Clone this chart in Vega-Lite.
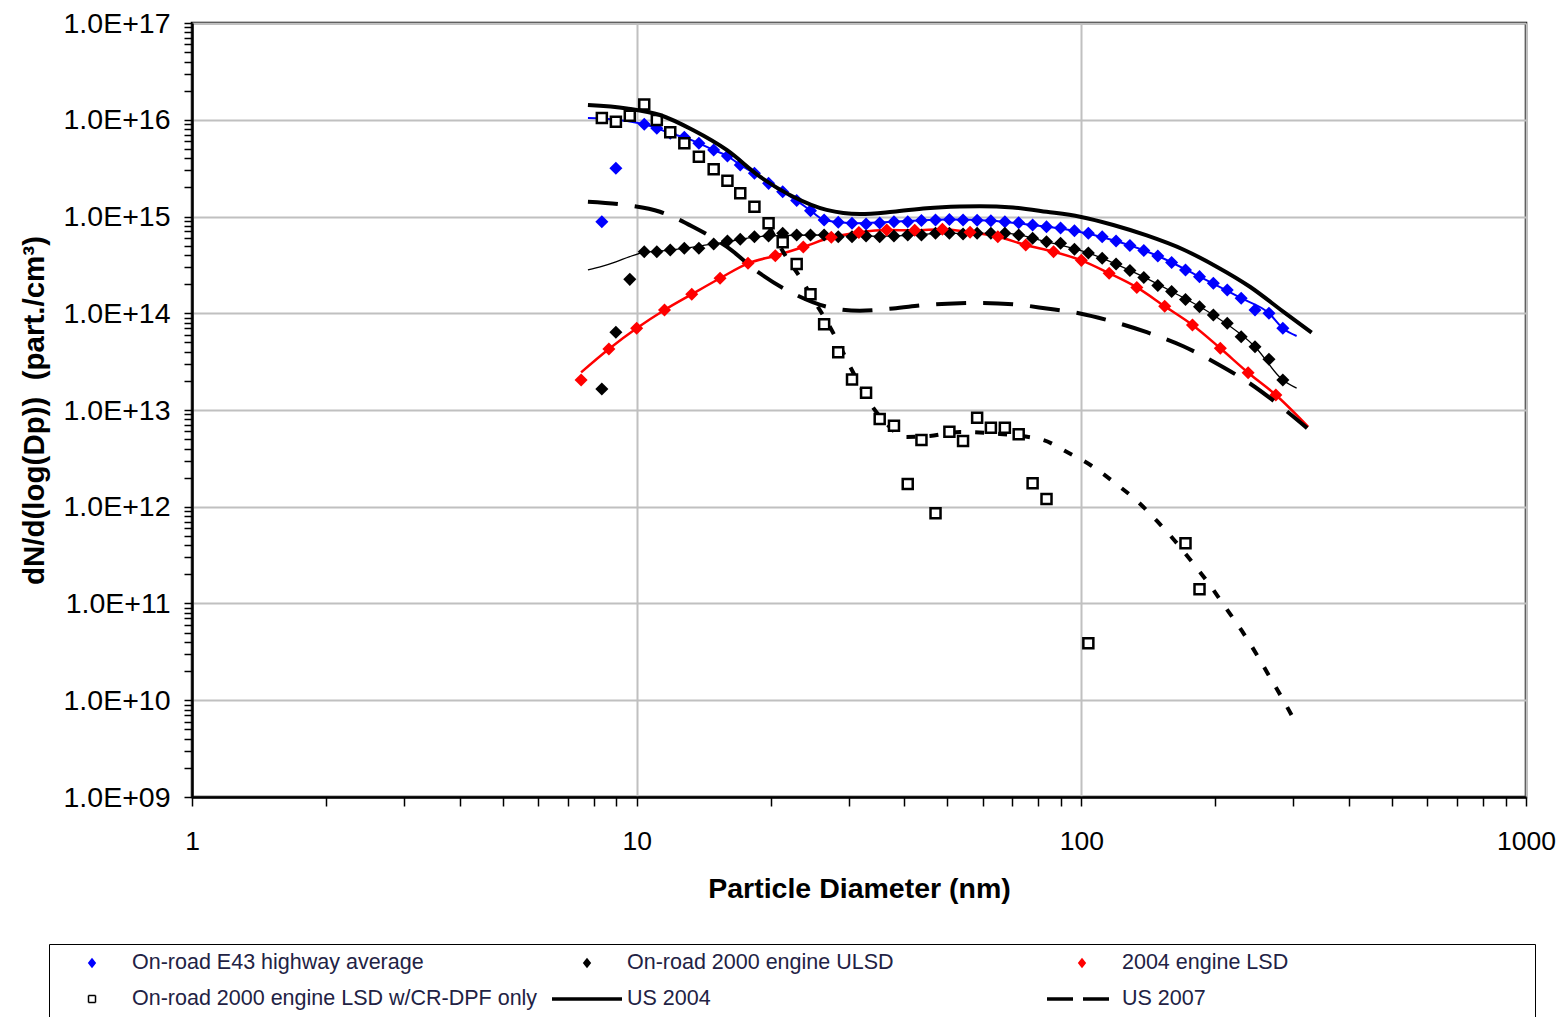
{
  "$schema": "https://vega.github.io/schema/vega-lite/v6.json",
  "width": 1334,
  "height": 774,
  "autosize": {"type": "none"},
  "padding": {"left": 192, "top": 23, "right": 40, "bottom": 220},
  "background": "#ffffff",
  "config": {
    "view": {"stroke": "#000000", "strokeWidth": 2.5},
    "font": "Liberation Sans",
    "legend": {
      "orient": "none", "legendX": -143, "legendY": 921, "direction": "horizontal",
      "columns": 3, "gridAlign": "all", "columnPadding": 11, "rowPadding": 10,
      "padding": 6, "symbolSize": 4900, "clipHeight": 26, "labelOffset": 3, "symbolOffset": 0,
      "labelFont": "Liberation Sans", "labelFontSize": 21.5, "labelColor": "#222244", "labelLimit": 0,
      "strokeColor": "#000000", "fillColor": "#ffffff", "symbolOpacity": 1
    }
  },
  "datasets": {
    "m": [
      {"s":"E43","d":8.35,"n":8.84e14},{"s":"E43","d":8.98,"n":3.15e15},{"s":"E43","d":10.4,"n":8.98e15},{"s":"E43","d":11.1,"n":8.17e15},{"s":"E43","d":11.9,"n":7.24e15},{"s":"E43","d":12.8,"n":6.59e15},{"s":"E43","d":13.8,"n":5.71e15},{"s":"E43","d":14.9,"n":4.87e15},{"s":"E43","d":16.0,"n":4.22e15},{"s":"E43","d":17.1,"n":3.41e15},{"s":"E43","d":18.4,"n":2.80e15},{"s":"E43","d":19.8,"n":2.20e15},{"s":"E43","d":21.3,"n":1.80e15},{"s":"E43","d":22.9,"n":1.46e15},{"s":"E43","d":24.6,"n":1.15e15},{"s":"E43","d":26.4,"n":9.2e14},{"s":"E43","d":28.4,"n":8.71e14},{"s":"E43","d":30.5,"n":8.51e14},{"s":"E43","d":32.8,"n":8.36e14},{"s":"E43","d":35.2,"n":8.57e14},{"s":"E43","d":37.9,"n":8.84e14},{"s":"E43","d":40.7,"n":8.84e14},{"s":"E43","d":43.7,"n":9.10e14},{"s":"E43","d":47.0,"n":9.2e14},{"s":"E43","d":50.5,"n":9.31e14},{"s":"E43","d":54.2,"n":9.2e14},{"s":"E43","d":58.3,"n":9.14e14},{"s":"E43","d":62.6,"n":9.06e14},{"s":"E43","d":67.3,"n":8.84e14},{"s":"E43","d":72.3,"n":8.63e14},{"s":"E43","d":77.7,"n":8.17e14},{"s":"E43","d":83.5,"n":7.85e14},{"s":"E43","d":89.8,"n":7.6e14},{"s":"E43","d":96.5,"n":7.13e14},{"s":"E43","d":103.7,"n":6.70e14},{"s":"E43","d":111.4,"n":6.18e14},{"s":"E43","d":119.7,"n":5.58e14},{"s":"E43","d":128.6,"n":5.01e14},{"s":"E43","d":138.2,"n":4.45e14},{"s":"E43","d":148.6,"n":3.91e14},{"s":"E43","d":159.6,"n":3.35e14},{"s":"E43","d":171.5,"n":2.80e14},{"s":"E43","d":184.4,"n":2.39e14},{"s":"E43","d":198.1,"n":2.04e14},{"s":"E43","d":212.9,"n":1.74e14},{"s":"E43","d":228.8,"n":1.43e14},{"s":"E43","d":245.8,"n":1.08e14},{"s":"E43","d":264.2,"n":1.00e14},{"s":"E43","d":283.9,"n":6.99e13},
      {"s":"ULSD","d":8.35,"n":1.65e13},{"s":"ULSD","d":8.98,"n":6.36e13},{"s":"ULSD","d":9.65,"n":2.24e14},{"s":"ULSD","d":10.4,"n":4.33e14},{"s":"ULSD","d":11.1,"n":4.33e14},{"s":"ULSD","d":11.9,"n":4.51e14},{"s":"ULSD","d":12.8,"n":4.69e14},{"s":"ULSD","d":13.8,"n":4.69e14},{"s":"ULSD","d":14.9,"n":5.20e14},{"s":"ULSD","d":16.0,"n":5.58e14},{"s":"ULSD","d":17.1,"n":5.81e14},{"s":"ULSD","d":18.4,"n":6.18e14},{"s":"ULSD","d":19.8,"n":6.29e14},{"s":"ULSD","d":21.3,"n":6.70e14},{"s":"ULSD","d":22.9,"n":6.44e14},{"s":"ULSD","d":24.6,"n":6.44e14},{"s":"ULSD","d":26.4,"n":6.44e14},{"s":"ULSD","d":28.4,"n":6.18e14},{"s":"ULSD","d":30.5,"n":6.18e14},{"s":"ULSD","d":32.8,"n":6.29e14},{"s":"ULSD","d":35.2,"n":6.18e14},{"s":"ULSD","d":37.9,"n":6.29e14},{"s":"ULSD","d":40.7,"n":6.44e14},{"s":"ULSD","d":43.7,"n":6.44e14},{"s":"ULSD","d":47.0,"n":6.70e14},{"s":"ULSD","d":50.5,"n":6.70e14},{"s":"ULSD","d":54.2,"n":6.59e14},{"s":"ULSD","d":58.3,"n":6.70e14},{"s":"ULSD","d":62.6,"n":6.70e14},{"s":"ULSD","d":67.3,"n":6.70e14},{"s":"ULSD","d":72.3,"n":6.44e14},{"s":"ULSD","d":77.7,"n":5.95e14},{"s":"ULSD","d":83.5,"n":5.49e14},{"s":"ULSD","d":89.8,"n":5.28e14},{"s":"ULSD","d":96.5,"n":4.58e14},{"s":"ULSD","d":103.7,"n":4.20e14},{"s":"ULSD","d":111.4,"n":3.70e14},{"s":"ULSD","d":119.7,"n":3.23e14},{"s":"ULSD","d":128.6,"n":2.77e14},{"s":"ULSD","d":138.2,"n":2.34e14},{"s":"ULSD","d":148.6,"n":1.94e14},{"s":"ULSD","d":159.6,"n":1.68e14},{"s":"ULSD","d":171.5,"n":1.39e14},{"s":"ULSD","d":184.4,"n":1.17e14},{"s":"ULSD","d":198.1,"n":9.59e13},{"s":"ULSD","d":212.9,"n":7.87e13},{"s":"ULSD","d":228.8,"n":5.73e13},{"s":"ULSD","d":245.8,"n":4.51e13},{"s":"ULSD","d":264.2,"n":3.34e13},{"s":"ULSD","d":283.9,"n":2.04e13},
      {"s":"LSD2004","d":7.5,"n":2.04e13},{"s":"LSD2004","d":8.66,"n":4.27e13},{"s":"LSD2004","d":10.0,"n":6.99e13},{"s":"LSD2004","d":11.55,"n":1.08e14},{"s":"LSD2004","d":13.3,"n":1.57e14},{"s":"LSD2004","d":15.4,"n":2.30e14},{"s":"LSD2004","d":17.8,"n":3.28e14},{"s":"LSD2004","d":20.5,"n":3.93e14},{"s":"LSD2004","d":23.7,"n":4.84e14},{"s":"LSD2004","d":27.4,"n":6.10e14},{"s":"LSD2004","d":31.6,"n":6.84e14},{"s":"LSD2004","d":36.5,"n":7.25e14},{"s":"LSD2004","d":42.2,"n":7.20e14},{"s":"LSD2004","d":48.7,"n":7.38e14},{"s":"LSD2004","d":56.2,"n":6.87e14},{"s":"LSD2004","d":64.9,"n":6.18e14},{"s":"LSD2004","d":75.0,"n":5.07e14},{"s":"LSD2004","d":86.6,"n":4.33e14},{"s":"LSD2004","d":100,"n":3.52e14},{"s":"LSD2004","d":115.5,"n":2.59e14},{"s":"LSD2004","d":133.3,"n":1.85e14},{"s":"LSD2004","d":154.0,"n":1.18e14},{"s":"LSD2004","d":177.8,"n":7.56e13},{"s":"LSD2004","d":205.4,"n":4.34e13},{"s":"LSD2004","d":237.2,"n":2.43e13},{"s":"LSD2004","d":273.8,"n":1.43e13},
      {"s":"DPF","d":8.35,"n":1.04e16},{"s":"DPF","d":8.98,"n":9.55e15},{"s":"DPF","d":9.65,"n":1.10e16},{"s":"DPF","d":10.4,"n":1.44e16},{"s":"DPF","d":11.1,"n":9.94e15},{"s":"DPF","d":11.9,"n":7.42e15},{"s":"DPF","d":12.8,"n":5.71e15},{"s":"DPF","d":13.8,"n":4.15e15},{"s":"DPF","d":14.9,"n":3.07e15},{"s":"DPF","d":16.0,"n":2.34e15},{"s":"DPF","d":17.1,"n":1.74e15},{"s":"DPF","d":18.4,"n":1.26e15},{"s":"DPF","d":19.8,"n":8.51e14},{"s":"DPF","d":21.3,"n":5.41e14},{"s":"DPF","d":22.9,"n":3.23e14},{"s":"DPF","d":24.6,"n":1.57e14},{"s":"DPF","d":26.4,"n":7.69e13},{"s":"DPF","d":28.4,"n":3.95e13},{"s":"DPF","d":30.5,"n":2.07e13},{"s":"DPF","d":32.8,"n":1.51e13},{"s":"DPF","d":35.2,"n":8.07e12},{"s":"DPF","d":37.9,"n":6.88e12},{"s":"DPF","d":40.7,"n":1.72e12},{"s":"DPF","d":43.7,"n":4.90e12},{"s":"DPF","d":47.0,"n":8.55e11},{"s":"DPF","d":50.5,"n":5.97e12},{"s":"DPF","d":54.2,"n":4.78e12},{"s":"DPF","d":58.3,"n":8.33e12},{"s":"DPF","d":62.6,"n":6.56e12},{"s":"DPF","d":67.3,"n":6.56e12},{"s":"DPF","d":72.3,"n":5.61e12},{"s":"DPF","d":77.7,"n":1.75e12},{"s":"DPF","d":83.5,"n":1.20e12},{"s":"DPF","d":103.7,"n":3.88e10},{"s":"DPF","d":171.5,"n":4.19e11},{"s":"DPF","d":184.4,"n":1.40e11}
    ],
    "f": [
      {"s":"E43","d":7.77,"n":1.04e16},{"s":"E43","d":8.35,"n":1.03e16},{"s":"E43","d":8.98,"n":1.0e16},{"s":"E43","d":9.65,"n":9.6e15},{"s":"E43","d":10.4,"n":8.98e15},{"s":"E43","d":11.1,"n":8.17e15},{"s":"E43","d":11.9,"n":7.24e15},{"s":"E43","d":12.8,"n":6.59e15},{"s":"E43","d":13.8,"n":5.71e15},{"s":"E43","d":14.9,"n":4.87e15},{"s":"E43","d":16.0,"n":4.22e15},{"s":"E43","d":17.1,"n":3.41e15},{"s":"E43","d":18.4,"n":2.80e15},{"s":"E43","d":19.8,"n":2.20e15},{"s":"E43","d":21.3,"n":1.80e15},{"s":"E43","d":22.9,"n":1.46e15},{"s":"E43","d":24.6,"n":1.15e15},{"s":"E43","d":26.4,"n":9.2e14},{"s":"E43","d":30.5,"n":8.51e14},{"s":"E43","d":37.9,"n":8.84e14},{"s":"E43","d":50.5,"n":9.31e14},{"s":"E43","d":62.6,"n":9.06e14},{"s":"E43","d":77.7,"n":8.17e14},{"s":"E43","d":96.5,"n":7.13e14},{"s":"E43","d":119.7,"n":5.58e14},{"s":"E43","d":148.6,"n":3.91e14},{"s":"E43","d":184.4,"n":2.39e14},{"s":"E43","d":228.8,"n":1.43e14},{"s":"E43","d":264.2,"n":1.00e14},{"s":"E43","d":283.9,"n":6.99e13},{"s":"E43","d":304.9,"n":5.82e13},
      {"s":"ULSD","d":7.77,"n":2.8e14},{"s":"ULSD","d":8.35,"n":3.05e14},{"s":"ULSD","d":8.98,"n":3.4e14},{"s":"ULSD","d":9.65,"n":3.85e14},{"s":"ULSD","d":10.4,"n":4.25e14},{"s":"ULSD","d":11.9,"n":4.5e14},{"s":"ULSD","d":14.9,"n":5.2e14},{"s":"ULSD","d":19.8,"n":6.3e14},{"s":"ULSD","d":26.4,"n":6.44e14},{"s":"ULSD","d":35.2,"n":6.25e14},{"s":"ULSD","d":50.5,"n":6.7e14},{"s":"ULSD","d":67.3,"n":6.7e14},{"s":"ULSD","d":83.5,"n":5.49e14},{"s":"ULSD","d":103.7,"n":4.20e14},{"s":"ULSD","d":128.6,"n":2.77e14},{"s":"ULSD","d":159.6,"n":1.68e14},{"s":"ULSD","d":198.1,"n":9.59e13},{"s":"ULSD","d":245.8,"n":4.51e13},{"s":"ULSD","d":283.9,"n":2.04e13},{"s":"ULSD","d":304.9,"n":1.68e13},
      {"s":"LSD2004","d":7.5,"n":2.45e13},{"s":"LSD2004","d":8.66,"n":4.27e13},{"s":"LSD2004","d":10.0,"n":6.99e13},{"s":"LSD2004","d":11.55,"n":1.08e14},{"s":"LSD2004","d":13.3,"n":1.57e14},{"s":"LSD2004","d":15.4,"n":2.30e14},{"s":"LSD2004","d":17.8,"n":3.28e14},{"s":"LSD2004","d":20.5,"n":3.93e14},{"s":"LSD2004","d":23.7,"n":4.84e14},{"s":"LSD2004","d":27.4,"n":6.10e14},{"s":"LSD2004","d":31.6,"n":6.84e14},{"s":"LSD2004","d":36.5,"n":7.25e14},{"s":"LSD2004","d":42.2,"n":7.20e14},{"s":"LSD2004","d":48.7,"n":7.38e14},{"s":"LSD2004","d":56.2,"n":6.87e14},{"s":"LSD2004","d":64.9,"n":6.18e14},{"s":"LSD2004","d":75.0,"n":5.07e14},{"s":"LSD2004","d":86.6,"n":4.33e14},{"s":"LSD2004","d":100,"n":3.52e14},{"s":"LSD2004","d":115.5,"n":2.59e14},{"s":"LSD2004","d":133.3,"n":1.85e14},{"s":"LSD2004","d":154.0,"n":1.18e14},{"s":"LSD2004","d":177.8,"n":7.56e13},{"s":"LSD2004","d":205.4,"n":4.34e13},{"s":"LSD2004","d":237.2,"n":2.43e13},{"s":"LSD2004","d":273.8,"n":1.43e13},{"s":"LSD2004","d":323.7,"n":6.7e12},
      {"s":"US2004","d":7.77,"n":1.42e16},{"s":"US2004","d":9.50,"n":1.31e16},{"s":"US2004","d":11.28,"n":1.12e16},{"s":"US2004","d":13.38,"n":7.83e15},{"s":"US2004","d":15.94,"n":4.87e15},{"s":"US2004","d":18.94,"n":2.58e15},{"s":"US2004","d":22.50,"n":1.60e15},{"s":"US2004","d":26.74,"n":1.17e15},{"s":"US2004","d":31.78,"n":1.06e15},{"s":"US2004","d":37.71,"n":1.12e15},{"s":"US2004","d":44.88,"n":1.22e15},{"s":"US2004","d":53.33,"n":1.27e15},{"s":"US2004","d":59.16,"n":1.28e15},{"s":"US2004","d":70.19,"n":1.24e15},{"s":"US2004","d":83.56,"n":1.12e15},{"s":"US2004","d":99.3,"n":9.95e14},{"s":"US2004","d":118.0,"n":8.17e14},{"s":"US2004","d":140.3,"n":6.37e14},{"s":"US2004","d":169.5,"n":4.56e14},{"s":"US2004","d":201.5,"n":3.03e14},{"s":"US2004","d":239.4,"n":1.88e14},{"s":"US2004","d":284.4,"n":1.04e14},{"s":"US2004","d":329.5,"n":6.30e13},
      {"s":"US2007","d":7.77,"n":1.42e15},{"s":"US2007","d":9.50,"n":1.31e15},{"s":"US2007","d":11.28,"n":1.12e15},{"s":"US2007","d":13.38,"n":7.83e14},{"s":"US2007","d":15.94,"n":4.87e14},{"s":"US2007","d":18.94,"n":2.58e14},{"s":"US2007","d":22.50,"n":1.60e14},{"s":"US2007","d":26.74,"n":1.17e14},{"s":"US2007","d":31.78,"n":1.06e14},{"s":"US2007","d":37.71,"n":1.12e14},{"s":"US2007","d":44.88,"n":1.22e14},{"s":"US2007","d":53.33,"n":1.27e14},{"s":"US2007","d":59.16,"n":1.28e14},{"s":"US2007","d":70.19,"n":1.24e14},{"s":"US2007","d":83.56,"n":1.12e14},{"s":"US2007","d":99.3,"n":9.95e13},{"s":"US2007","d":118.0,"n":8.17e13},{"s":"US2007","d":140.3,"n":6.37e13},{"s":"US2007","d":169.5,"n":4.56e13},{"s":"US2007","d":201.5,"n":3.03e13},{"s":"US2007","d":239.4,"n":1.88e13},{"s":"US2007","d":284.4,"n":1.04e13},{"s":"US2007","d":322,"n":6.5e12},
      {"s":"DPF","d":19.94,"n":7.6e14},{"s":"DPF","d":21.56,"n":4.0e14},{"s":"DPF","d":23.29,"n":2.37e14},{"s":"DPF","d":25.17,"n":1.31e14},{"s":"DPF","d":27.21,"n":7.21e13},{"s":"DPF","d":30.64,"n":2.47e13},{"s":"DPF","d":33.13,"n":1.27e13},{"s":"DPF","d":36.17,"n":7.51e12},{"s":"DPF","d":40.12,"n":5.26e12},{"s":"DPF","d":45.66,"n":5.39e12},{"s":"DPF","d":53.33,"n":5.93e12},{"s":"DPF","d":65.61,"n":5.65e12},{"s":"DPF","d":81.94,"n":4.9e12},{"s":"DPF","d":92.82,"n":3.68e12},{"s":"DPF","d":105.6,"n":2.64e12},{"s":"DPF","d":119.0,"n":1.76e12},{"s":"DPF","d":133.4,"n":1.15e12},{"s":"DPF","d":147.9,"n":7.13e11},{"s":"DPF","d":162.4,"n":4.43e11},{"s":"DPF","d":178.2,"n":2.62e11},{"s":"DPF","d":194.6,"n":1.55e11},{"s":"DPF","d":211.4,"n":8.98e10},{"s":"DPF","d":229.7,"n":5.2e10},{"s":"DPF","d":248.3,"n":2.94e10},{"s":"DPF","d":266.9,"n":1.66e10},{"s":"DPF","d":287.0,"n":9.37e9},{"s":"DPF","d":305.3,"n":5.55e9}
    ]
  },
  "encoding": {
    "x": {
      "field": "d", "type": "quantitative",
      "scale": {"type": "log", "domain": [1, 1000], "nice": false},
      "axis": {
        "values": [1,2,3,4,5,6,7,8,9,10,20,30,40,50,60,70,80,90,100,200,300,400,500,600,700,800,900,1000],
        "labelExpr": "abs(log(datum.value)/LN10 - round(log(datum.value)/LN10)) < 0.001 ? format(datum.value, 'd') : ''",
        "labelOverlap": false, "labelFlush": false, "labelBound": false,
        "labelFont": "Liberation Sans", "labelFontSize": 26.5, "labelColor": "#000000", "labelPadding": 22,
        "tickSize": 9, "tickColor": "#000000", "tickWidth": 1.5,
        "domainColor": "#000000", "domainWidth": 2.5,
        "grid": true, "gridColor": "#c0c0c0", "gridWidth": 2,
        "gridOpacity": {"condition": {"test": "abs(log(datum.value)/LN10 - round(log(datum.value)/LN10)) < 0.001", "value": 1}, "value": 0},
        "title": "Particle Diameter (nm)", "titleFont": "Liberation Sans", "titleFontSize": 28.5, "titleFontWeight": "bold", "titleColor": "#000000", "titlePadding": 20,
        "encode": {"ticks": {"y2": {"value": {"expr": "abs(log(datum.value)/LN10 - round(log(datum.value)/LN10)) < 0.001 ? 9 : 6"}}, "update": {"y2": {"signal": "abs(log(datum.value)/LN10 - round(log(datum.value)/LN10)) < 0.001 ? 9 : 6"}}}}
      }
    },
    "y": {
      "field": "n", "type": "quantitative",
      "scale": {"type": "log", "domain": [1e9, 1e17], "nice": false},
      "axis": {
        "values": [1e9,2e9,3e9,4e9,5e9,6e9,7e9,8e9,9e9,1e10,2e10,3e10,4e10,5e10,6e10,7e10,8e10,9e10,1e11,2e11,3e11,4e11,5e11,6e11,7e11,8e11,9e11,1e12,2e12,3e12,4e12,5e12,6e12,7e12,8e12,9e12,1e13,2e13,3e13,4e13,5e13,6e13,7e13,8e13,9e13,1e14,2e14,3e14,4e14,5e14,6e14,7e14,8e14,9e14,1e15,2e15,3e15,4e15,5e15,6e15,7e15,8e15,9e15,1e16,2e16,3e16,4e16,5e16,6e16,7e16,8e16,9e16,1e17],
        "labelExpr": "abs(log(datum.value)/LN10 - round(log(datum.value)/LN10)) < 0.001 ? '1.0E+' + format(round(log(datum.value)/LN10), '02d') : ''",
        "labelOverlap": false, "labelFlush": false, "labelBound": false,
        "labelFont": "Liberation Sans", "labelFontSize": 28.5, "labelColor": "#000000", "labelPadding": 14,
        "tickSize": 8, "tickColor": "#000000", "tickWidth": 1.5,
        "domainColor": "#000000", "domainWidth": 2.5,
        "grid": true, "gridColor": "#c0c0c0", "gridWidth": 2,
        "gridOpacity": {"condition": {"test": "abs(log(datum.value)/LN10 - round(log(datum.value)/LN10)) < 0.001", "value": 1}, "value": 0},
        "title": "dN/d(log(Dp))\u00a0\u00a0(part./cm³)", "titleFont": "Liberation Sans", "titleFontSize": 29.5, "titleFontWeight": "bold", "titleColor": "#000000", "titlePadding": 14,
        "encode": {"ticks": {"x2": {"value": {"expr": "abs(log(datum.value)/LN10 - round(log(datum.value)/LN10)) < 0.001 ? -8 : -5"}}, "update": {"x2": {"signal": "abs(log(datum.value)/LN10 - round(log(datum.value)/LN10)) < 0.001 ? -8 : -5"}}}}
      }
    }
  },
  "layer": [
    {
      "data": {"name": "f"},
      "transform": [{"filter": "datum.s === 'E43'"}],
      "mark": {"type": "line", "color": "#0000ff", "strokeWidth": 2, "interpolate": "monotone"},
      "encoding": {}
    },
    {
      "data": {"name": "f"},
      "transform": [{"filter": "datum.s === 'ULSD'"}],
      "mark": {"type": "line", "color": "#000000", "strokeWidth": 1.3, "interpolate": "monotone"},
      "encoding": {}
    },
    {
      "data": {"name": "f"},
      "transform": [{"filter": "datum.s === 'LSD2004'"}],
      "mark": {"type": "line", "color": "#ff0000", "strokeWidth": 2.5, "interpolate": "monotone"},
      "encoding": {}
    },
    {
      "data": {"name": "f"},
      "transform": [{"filter": "datum.s === 'DPF'"}],
      "mark": {"type": "line", "color": "#000000", "strokeWidth": 4, "strokeDash": [9, 14], "interpolate": "monotone"},
      "encoding": {}
    },
    {
      "data": {"name": "m"},
      "transform": [{"filter": "datum.s !== 'DPF'"}],
      "mark": {"type": "point", "shape": "diamond", "filled": true, "size": 170, "opacity": 1, "strokeWidth": 0},
      "encoding": {
        "color": {
          "field": "s", "type": "nominal",
          "scale": {"domain": ["E43", "ULSD", "LSD2004"], "range": ["#0000ff", "#000000", "#ff0000"]},
          "legend": null
        }
      }
    },
    {
      "data": {"name": "m"},
      "transform": [{"filter": "datum.s === 'DPF'"}],
      "mark": {"type": "point", "shape": "square", "filled": true, "fill": "#ffffff", "stroke": "#000000", "strokeWidth": 2.5, "size": 100, "opacity": 1},
      "encoding": {}
    },
    {
      "data": {"name": "f"},
      "transform": [{"filter": "datum.s === 'US2004'"}],
      "mark": {"type": "line", "color": "#000000", "strokeWidth": 4, "interpolate": "monotone"},
      "encoding": {}
    },
    {
      "data": {"name": "f"},
      "transform": [{"filter": "datum.s === 'US2007'"}],
      "mark": {"type": "line", "color": "#000000", "strokeWidth": 4, "strokeDash": [30, 17], "interpolate": "monotone"},
      "encoding": {}
    },
    {
      "data": {"name": "m"},
      "transform": [{"filter": "datum.s === 'legend-only'"}],
      "mark": {"type": "point", "filled": true, "opacity": 1},
      "encoding": {
        "fill": {
          "field": "s", "type": "nominal",
          "scale": {"domain": ["On-road E43 highway average", "On-road 2000 engine ULSD", "2004 engine LSD", "On-road 2000 engine LSD w/CR-DPF only", "US 2004", "US 2007"], "range": ["#0000ff", "#000000", "#ff0000", "#ffffff", "#000000", "#000000"]},
          "legend": {"title": null, "encode": {"entries": {"width": {"value": 484}, "update": {"width": {"value": 484}}}, "legend": {"strokeWidth": {"value": 2}}}}
        },
        "stroke": {
          "field": "s", "type": "nominal",
          "scale": {"domain": ["On-road E43 highway average", "On-road 2000 engine ULSD", "2004 engine LSD", "On-road 2000 engine LSD w/CR-DPF only", "US 2004", "US 2007"], "range": ["#0000ff", "#000000", "#ff0000", "#000000", "#000000", "#000000"]},
          "legend": {"title": null}
        },
        "shape": {
          "field": "s", "type": "nominal",
          "scale": {"domain": ["On-road E43 highway average", "On-road 2000 engine ULSD", "2004 engine LSD", "On-road 2000 engine LSD w/CR-DPF only", "US 2004", "US 2007"], "range": ["M0,-0.15L0.12,0L0,0.15L-0.12,0Z", "M0,-0.15L0.12,0L0,0.15L-0.12,0Z", "M0,-0.15L0.12,0L0,0.15L-0.12,0Z", "M-0.1,-0.1L0.1,-0.1L0.1,0.1L-0.1,0.1Z", "M-1,0L1,0", "M-1,0L1,0"]},
          "legend": {"title": null}
        },
        "strokeDash": {
          "field": "s", "type": "nominal",
          "scale": {"domain": ["On-road E43 highway average", "On-road 2000 engine ULSD", "2004 engine LSD", "On-road 2000 engine LSD w/CR-DPF only", "US 2004", "US 2007"], "range": [[1, 0], [1, 0], [1, 0], [1, 0], [1, 0], [26, 10]]},
          "legend": {"title": null}
        },
        "strokeWidth": {
          "field": "s", "type": "ordinal",
          "scale": {"type": "ordinal", "domain": ["On-road E43 highway average", "On-road 2000 engine ULSD", "2004 engine LSD", "On-road 2000 engine LSD w/CR-DPF only", "US 2004", "US 2007"], "range": [0, 0, 0, 1.5, 3.5, 3.5]},
          "legend": {"title": null}
        }
      }
    }
  ]
}
